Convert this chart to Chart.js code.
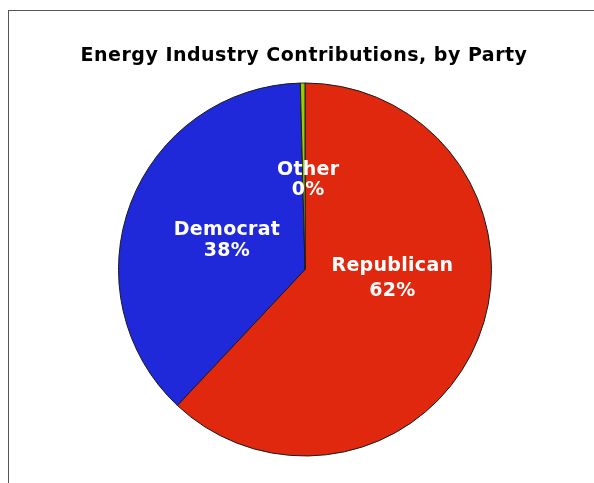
<!DOCTYPE html>
<html>
<head>
<meta charset="utf-8">
<script src="https://cdn.jsdelivr.net/npm/chart.js@4/dist/chart.umd.min.js"></script>
<style>
  body { margin: 0; background: #fff; }
  #wrap { position: relative; width: 594px; height: 483px; }
  #frame { position: absolute; left: 8px; top: 10px; right: -2px; bottom: -2px; border-left: 1px solid #555; border-top: 1px solid #555; }
  canvas { position: absolute; left: 0; top: 0; }
</style>
</head>
<body>
<div id="wrap">
  <div id="frame"></div>
  <canvas id="grafico" width="594" height="483"></canvas>
</div>
<script>
const titulo = "Energy Industry Contributions, by Party";
const partidos = ["Republican", "Democrat", "Other"];
const percentuais = [62.0, 37.6, 0.4];
const cores = ["#e0280f", "#1f29da", "#99cc00"];

// label placement per slice: angle (deg, clockwise from top), fraction of radius, gap between lines
const posRotulos = [
    { ang: 94.5, frac: 0.47, gap: 25 },
    { ang: 291.7, frac: 0.45, gap: 21 },
    { ang: 2, frac: 0.49, gap: 20 }
];

const rotulos = {
    id: 'rotulos',
    afterDraw(chart) {
        const c = chart.ctx;
        c.save();
        c.fillStyle = '#000';
        c.font = 'bold 19px "DejaVu Sans"';
        c.letterSpacing = '0.5px';
        c.textAlign = 'center';
        c.textBaseline = 'alphabetic';
        c.fillText(titulo, 304, 61);

        const arcos = chart.getDatasetMeta(0).data;
        c.fillStyle = '#fff';
        c.font = 'bold 19px "DejaVu Sans"';
        c.letterSpacing = '0.3px';
        arcos.forEach((arc, i) => {
            const p = posRotulos[i];
            const a = p.ang * Math.PI / 180;
            const r = arc.outerRadius * p.frac;
            const x = arc.x + Math.sin(a) * r;
            const y = arc.y - Math.cos(a) * r;
            c.fillText(partidos[i], x, y - p.gap / 2 + 7);
            c.fillText(Math.round(percentuais[i]) + '%', x, y + p.gap / 2 + 7);
        });
        c.restore();
    }
};

new Chart(document.getElementById('grafico'), {
    type: 'pie',
    data: {
        labels: partidos,
        datasets: [{
            data: percentuais,
            backgroundColor: cores,
            borderColor: '#1a1a1a',
            borderWidth: 1
        }]
    },
    options: {
        responsive: false,
        animation: false,
        layout: { padding: { top: 82, bottom: 26, left: 118, right: 102 } },
        plugins: {
            legend: { display: false },
            tooltip: { enabled: false }
        }
    },
    plugins: [rotulos]
});
</script>
</body>
</html>
